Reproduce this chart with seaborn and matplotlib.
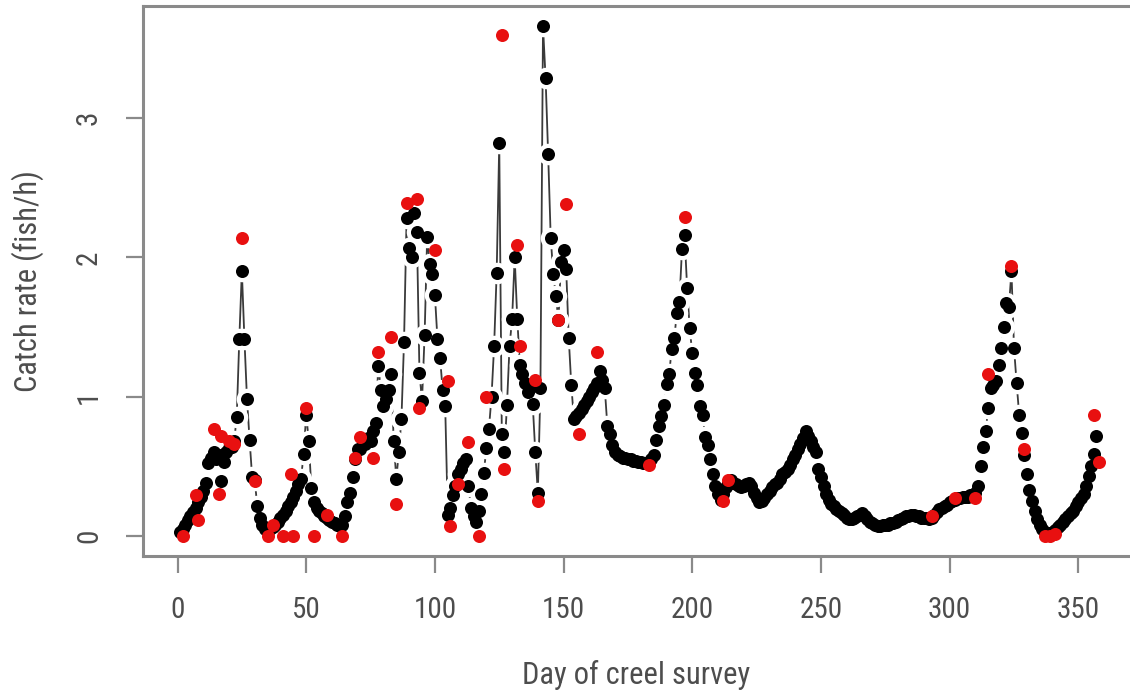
import matplotlib
matplotlib.use("Agg")
import pandas as pd
import matplotlib.pyplot as plt
import seaborn as sns

# ======== daily predicted catch rate (fish/h), day 1 onwards ========
PRED_RATE = [
    0.03, 0.05, 0.08, 0.11, 0.14, 0.17, 0.20, 0.24, 0.28, 0.32,
    0.38, 0.52, 0.56, 0.60, 0.55, 0.58, 0.39, 0.53, 0.60, 0.63,
    0.64, 0.68, 0.85, 1.41, 1.90, 1.41, 0.98, 0.69, 0.42, 0.40,
    0.21, 0.13, 0.08, 0.05, 0.04, 0.05, 0.06, 0.08, 0.10, 0.13,
    0.15, 0.18, 0.21, 0.24, 0.28, 0.32, 0.37, 0.41, 0.59, 0.87,
    0.68, 0.34, 0.24, 0.20, 0.18, 0.16, 0.14, 0.13, 0.11, 0.10,
    0.09, 0.08, 0.07, 0.08, 0.14, 0.24, 0.31, 0.42, 0.55, 0.62,
    0.62, 0.67, 0.66, 0.70, 0.68, 0.75, 0.81, 1.22, 1.05, 0.93,
    0.98, 1.05, 1.16, 0.68, 0.41, 0.60, 0.84, 1.39, 2.28, 2.07,
    2.00, 2.32, 2.18, 1.17, 0.97, 1.44, 2.15, 1.95, 1.88, 1.73,
    1.41, 1.28, 1.05, 0.93, 0.15, 0.20, 0.29, 0.36, 0.44, 0.48,
    0.52, 0.55, 0.36, 0.20, 0.14, 0.10, 0.18, 0.30, 0.45, 0.63,
    0.77, 1.00, 1.36, 1.89, 2.82, 0.73, 0.60, 0.94, 1.36, 1.56,
    2.00, 1.56, 1.23, 1.16, 1.10, 1.03, 1.06, 0.95, 0.60, 0.31,
    1.06, 3.66, 3.29, 2.74, 2.14, 1.88, 1.72, 1.55, 1.97, 2.05,
    1.92, 1.42, 1.08, 0.84, 0.86, 0.88, 0.91, 0.94, 0.97, 1.00,
    1.03, 1.06, 1.10, 1.18, 1.12, 1.06, 0.79, 0.73, 0.65, 0.60,
    0.58, 0.57, 0.56, 0.56, 0.55, 0.55, 0.54, 0.54, 0.53, 0.53,
    0.52, 0.52, 0.53, 0.55, 0.58, 0.69, 0.79, 0.86, 0.94, 1.09,
    1.16, 1.34, 1.42, 1.60, 1.68, 2.06, 2.16, 1.78, 1.49, 1.31,
    1.17, 1.08, 0.93, 0.87, 0.71, 0.65, 0.55, 0.44, 0.36, 0.30,
    0.26, 0.30, 0.35, 0.38, 0.40, 0.38, 0.37, 0.36, 0.35, 0.36,
    0.37, 0.38, 0.36, 0.31, 0.27, 0.24, 0.25, 0.27, 0.30, 0.32,
    0.35, 0.37, 0.38, 0.41, 0.44, 0.46, 0.48, 0.51, 0.55, 0.58,
    0.62, 0.66, 0.70, 0.75, 0.72, 0.68, 0.64, 0.60, 0.48, 0.42,
    0.36, 0.30, 0.26, 0.23, 0.21, 0.19, 0.18, 0.16, 0.15, 0.13,
    0.12, 0.12, 0.13, 0.14, 0.15, 0.16, 0.14, 0.12, 0.10, 0.09,
    0.08, 0.07, 0.07, 0.08, 0.08, 0.08, 0.09, 0.09, 0.10, 0.11,
    0.12, 0.13, 0.14, 0.14, 0.15, 0.15, 0.14, 0.14, 0.13, 0.13,
    0.13, 0.12, 0.13, 0.15, 0.17, 0.19, 0.20, 0.21, 0.22, 0.24,
    0.25, 0.26, 0.27, 0.27, 0.28, 0.28, 0.28, 0.29, 0.29, 0.31,
    0.36, 0.50, 0.64, 0.75, 0.92, 1.06, 1.08, 1.11, 1.23, 1.35,
    1.50, 1.67, 1.64, 1.90, 1.35, 1.10, 0.87, 0.74, 0.58, 0.44,
    0.33, 0.25, 0.18, 0.12, 0.08, 0.05, 0.03, 0.02, 0.02, 0.03,
    0.04, 0.06, 0.08, 0.10, 0.12, 0.14, 0.16, 0.18, 0.21, 0.24,
    0.27, 0.30, 0.36, 0.43, 0.50, 0.59, 0.72,
]

# ======== observed catch rate on survey days (red) ========
OBS_DAY = [
    2, 7, 8, 14, 16, 17, 20, 22, 25, 30,
    35, 37, 41, 44, 45, 50, 53, 58, 64, 69,
    71, 76, 78, 83, 85, 89, 93, 94, 100, 105,
    106, 109, 113, 117, 120, 126, 127, 132, 133, 139,
    140, 148, 151, 156, 163, 183, 197, 212, 214, 293,
    302, 310, 315, 324, 329, 337, 339, 341, 356, 358,
]
OBS_RATE = [
    0.00, 0.29, 0.11, 0.77, 0.30, 0.72, 0.68, 0.66, 2.14, 0.39,
    0.00, 0.08, 0.00, 0.44, 0.00, 0.92, 0.00, 0.15, 0.00, 0.56,
    0.71, 0.56, 1.32, 1.43, 0.23, 2.39, 2.42, 0.92, 2.05, 1.11,
    0.07, 0.37, 0.67, 0.00, 1.00, 3.60, 0.48, 2.09, 1.36, 1.12,
    0.25, 1.55, 2.38, 0.73, 1.32, 0.51, 2.29, 0.25, 0.40, 0.14,
    0.27, 0.27, 1.16, 1.94, 0.62, 0.00, 0.00, 0.01, 0.87, 0.53,
]

X_TICKS = [0, 50, 100, 150, 200, 250, 300, 350]
Y_TICKS = [0, 1, 2, 3]

AXIS_GREY = "#8a8a8a"
TEXT_GREY = "#4d4d4d"
# narrow face like the original; falls back to plain Liberation Sans
FONT_LIST = ["Liberation Sans Narrow", "Roboto Condensed", "Arial Narrow",
             "Liberation Sans", "DejaVu Sans"]


def build_plot():
    pred = pd.DataFrame({"day": range(1, len(PRED_RATE) + 1), "rate": PRED_RATE})
    obs = pd.DataFrame({"day": OBS_DAY, "rate": OBS_RATE})

    sns.set_theme(style="white")
    plt.rcParams["font.family"] = FONT_LIST
    plt.rcParams["font.stretch"] = "condensed"

    fig = plt.figure(figsize=(11.3, 6.94), dpi=100)
    # R-style box; right edge runs past the image like in the source
    ax = fig.add_axes([0.1268, 0.1988, 0.8783, 0.7925])

    # type="b": line, white gap around each point, then the points
    sns.lineplot(data=pred, x="day", y="rate", color="#3a3a3a", linewidth=1.3,
                 ax=ax, zorder=1)
    sns.scatterplot(data=pred, x="day", y="rate", color="white", s=240,
                    linewidth=0, ax=ax, zorder=2)
    sns.scatterplot(data=pred, x="day", y="rate", color="black", s=88,
                    linewidth=0, ax=ax, zorder=3)
    sns.scatterplot(data=obs, x="day", y="rate", color="#e81010", s=88,
                    linewidth=0, ax=ax, zorder=4)

    ax.set_xlim(-13.3, 372.3)
    ax.set_ylim(-0.146, 3.806)
    ax.set_xticks(X_TICKS)
    ax.set_yticks(Y_TICKS)

    for s in ax.spines.values():
        s.set_color(AXIS_GREY)
        s.set_linewidth(2.2)
    ax.tick_params(axis="both", length=12, width=1.6, color=AXIS_GREY,
                   labelsize=21, labelcolor=TEXT_GREY, pad=17,
                   bottom=True, left=True)
    ax.tick_params(axis="y", labelrotation=90)
    for lab in ax.get_yticklabels():
        lab.set_va("center")

    ax.set_xlabel("Day of creel survey", fontsize=22, color=TEXT_GREY)
    ax.set_ylabel("Catch rate (fish/h)", fontsize=22, color=TEXT_GREY)
    ax.xaxis.set_label_coords(0.497, -0.216)
    ax.xaxis.label.set_va("center")
    ax.yaxis.set_label_coords(-0.116, 0.5)
    ax.yaxis.label.set_va("center")

    fig.savefig("out.png", dpi=100)
    plt.close(fig)


if __name__ == "__main__":
    build_plot()
